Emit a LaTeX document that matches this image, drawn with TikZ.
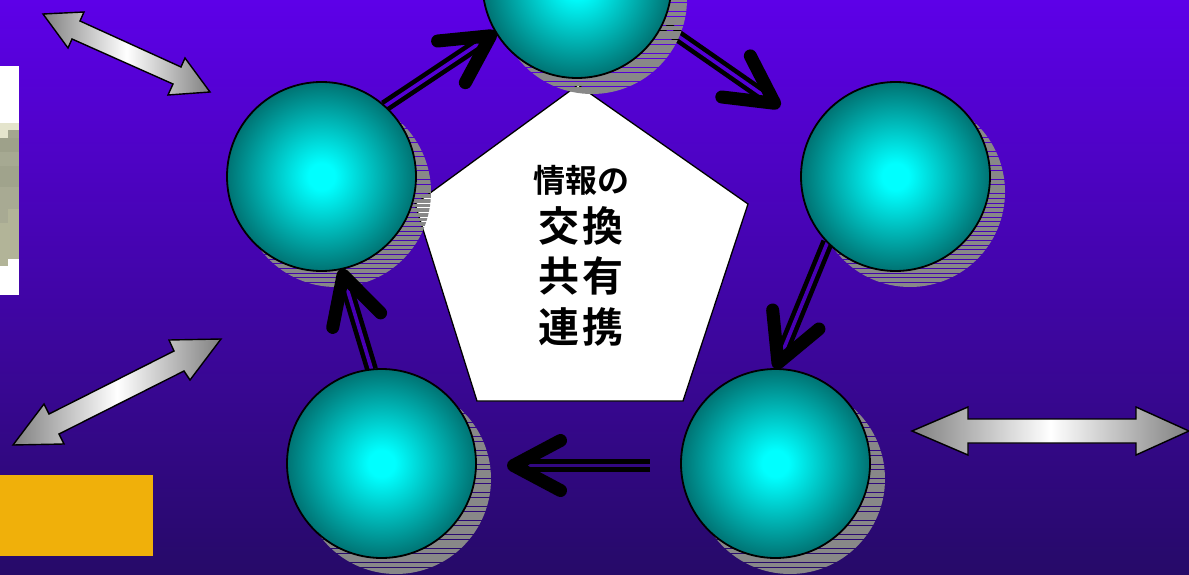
\documentclass[tikz,border=0pt]{standalone}
\usepackage{fontspec}
\newfontfamily\cjkbold[Scale=1]{Noto Sans CJK JP Bold}
\usetikzlibrary{arrows.meta}
\definecolor{bgtop}{RGB}{93,0,232}
\definecolor{bgbot}{RGB}{38,10,104}
\definecolor{gapA}{RGB}{84,0,214}
\definecolor{gapB}{RGB}{72,0,180}
\definecolor{gapC}{RGB}{50,8,130}
\definecolor{shadowgray}{RGB}{136,136,136}
\definecolor{goldbox}{RGB}{240,176,10}
\pgfdeclareradialshading{spheresh}{\pgfpointorigin}{rgb(0bp)=(0,1,1); rgb(3.5bp)=(0,1,1); rgb(25bp)=(0,0.45,0.45); rgb(50bp)=(0,0.45,0.45)}
\tikzset{
  sphere/.style={circle,draw=black,line width=1.8pt,minimum size=189pt,inner sep=0pt,outer sep=0pt,shading=spheresh},
  anchorball/.style={circle,minimum size=189pt,inner sep=0pt,outer sep=0pt},
  rail/.style={line width=4.6pt,double distance=3.6pt,draw=black,
    -{Straight Barb[length=47pt,width=50pt,line width=13pt,round]}},
  silver/.style={draw=black,line width=1.4pt,line join=miter,left color=gray,right color=gray,middle color=white},
  centerbox/.style={draw=black,line width=1.3pt,fill=white,line join=miter},
  labeltext/.style={align=center,inner sep=0pt,font=\cjkbold}
}
\newcommand{\shadowdisc}[2]{%
  \begin{scope}
    \clip (#1+15,#2+16) circle (95);
    \foreach \k in {0,...,135}{
      \fill[shadowgray] (#1-90,{-30+\k*4.67}) rectangle (#1+120,{-30+\k*4.67+3.9});
    }
  \end{scope}}
\begin{document}
\begin{tikzpicture}[x=1pt,y=-1pt]
\useasboundingbox (0,0) rectangle (1189,575);
\shade[top color=bgtop,bottom color=bgbot] (0,0) rectangle (1189,575);

% left picture fragment
\fill[white] (0,66) rectangle (19,295);
\fill[fill={rgb,255:red,228;green,228;blue,204}] (0,123) rectangle (19,130);
\fill[fill={rgb,255:red,228;green,228;blue,204}] (0,130) rectangle (8,138);
\fill[fill={rgb,255:red,163;green,166;blue,143}] (8,130) rectangle (19,138);
\fill[fill={rgb,255:red,158;green,161;blue,138}] (0,138) rectangle (19,152);
\fill[fill={rgb,255:red,166;green,169;blue,146}] (0,152) rectangle (19,166);
\fill[fill={rgb,255:red,160;green,163;blue,140}] (0,166) rectangle (19,187);
\fill[fill={rgb,255:red,168;green,170;blue,147}] (0,187) rectangle (19,209);
\fill[fill={rgb,255:red,168;green,170;blue,147}] (0,209) rectangle (8,223);
\fill[fill={rgb,255:red,178;green,180;blue,152}] (8,209) rectangle (19,259);
\fill[fill={rgb,255:red,178;green,180;blue,152}] (0,223) rectangle (8,266);

% gold box
\fill[goldbox] (0,475) rectangle (153,556);

% silver double arrows
\path[silver] (43,14) -- (84,12) -- (80,21) -- (181,67) -- (185,58) -- (210,92) -- (168,95) -- (173,84) -- (72,39) -- (68,48) -- cycle;
\path[silver] (221,339) -- (169,340) -- (174,351) -- (49,414) -- (44,404) -- (13,445) -- (64,444) -- (59,434) -- (184,371) -- (190,380) -- cycle;
\path[silver] (912,431) -- (968,407) -- (968,419) -- (1136,419) -- (1136,407) -- (1189,431) -- (1136,455) -- (1136,443) -- (968,443) -- (968,455) -- cycle;

% centre pentagon
\path[centerbox] (578,85) -- (748,204) -- (683,401) -- (477,401) -- (415,204) -- cycle;
\node[labeltext] (label) at (581,255.5) {%
  {\fontsize{32}{48}\selectfont 情報の}\\[10pt]
  {\fontsize{41}{51}\selectfont 交\hspace{4pt}換}\\[11pt]
  {\fontsize{41}{51}\selectfont 共\hspace{4pt}有}\\[11pt]
  {\fontsize{41}{51}\selectfont 連\hspace{4pt}携}};

% sphere positions
\coordinate (Tc) at (577,-16.5);
\coordinate (Rc) at (895.5,176.5);
\coordinate (Lc) at (321.5,176.5);
\coordinate (Bc) at (775.5,463.5);
\coordinate (Ac) at (381.5,463.5);
\node[anchorball] (T) at (Tc) {};
\node[anchorball] (R) at (Rc) {};
\node[anchorball] (L) at (Lc) {};
\node[anchorball] (B) at (Bc) {};
\node[anchorball] (A) at (Ac) {};
\coordinate (tipR) at (780,107);
\coordinate (railBs) at (650,465.5);
\coordinate (tipA) at (507,465.5);

\draw[rail,double=gapA] (T.-26) -- (tipR);

% shadows
\shadowdisc{577}{-17}
\shadowdisc{895}{176}
\shadowdisc{321}{176}
\shadowdisc{775}{463}
\shadowdisc{381}{463}

\draw[rail,double=gapA] (L.48) -- (T.211);
\draw[rail,double=gapB] (R.-136) -- (B.90);
\draw[rail,double=gapC] (railBs) -- (tipA);
\draw[rail,double=gapB] (A.96) -- (L.-78);

% spheres
\path[sphere] (Tc) circle (94.5);
\path[sphere] (Rc) circle (94.5);
\path[sphere] (Lc) circle (94.5);
\path[sphere] (Bc) circle (94.5);
\path[sphere] (Ac) circle (94.5);
\end{tikzpicture}
\end{document}
